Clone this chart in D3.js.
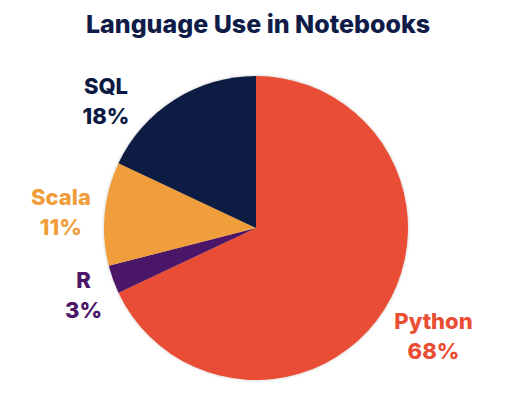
<!DOCTYPE html>
<html lang="en">
<head>
  <meta charset="UTF-8">
  <title>Language Use in Notebooks</title>
  <style>
    body {
      margin: 0;
      background: #fff;
      font-family: Inter, "Noto Sans", sans-serif;
    }
    svg { display: block; }
    .title { font-size: 25px; font-weight: 800; fill: #0f1c48; }
    .label { font-size: 22px; font-weight: 800; }
  </style>
</head>
<body>
  <svg width="516" height="394"></svg>

  <script src="https://d3js.org/d3.v7.min.js"></script>
  <script>
    const languages = ["Python", "R", "Scala", "SQL"];
    const shares = [68, 3, 11, 18];
    const colors = ["#e94e35", "#4b1568", "#f09d3b", "#0b1a42"];

    const width = 516, height = 394;
    const cx = 256, cy = 228, radius = 152;

    // hand nudges so labels sit where the original has them
    const nudge = { Python: [12, 2], R: [12, 0], Scala: [0, 1], SQL: [-45, 37] };

    const svg = d3.select("svg");

    svg.append("text")
      .attr("class", "title")
      .attr("x", width / 2)
      .attr("y", 33)
      .attr("text-anchor", "middle")
      .text("Language Use in Notebooks");

    const defs = svg.append("defs");
    const f = defs.append("filter").attr("id", "shadow")
      .attr("x", "-10%").attr("y", "-10%").attr("width", "120%").attr("height", "120%");
    f.append("feDropShadow")
      .attr("dx", 0).attr("dy", 0).attr("stdDeviation", 1.5)
      .attr("flood-color", "#000").attr("flood-opacity", 0.25);

    const data = languages.map((d, i) => ({ name: d, value: shares[i], color: colors[i] }));

    const pie = d3.pie().value(d => d.value).sort(null);
    const arc = d3.arc().innerRadius(0).outerRadius(radius);
    const labelArc = d3.arc().innerRadius(196).outerRadius(196);

    const g = svg.append("g").attr("transform", `translate(${cx},${cy})`);

    g.append("g")
      .attr("filter", "url(#shadow)")
      .selectAll("path")
      .data(pie(data))
      .join("path")
      .attr("d", arc)
      .attr("fill", d => d.data.color);

    const labels = g.selectAll("text.label")
      .data(pie(data))
      .join("text")
      .attr("class", "label")
      .attr("text-anchor", "middle")
      .attr("fill", d => d.data.color)
      .attr("transform", d => {
        const [x, y] = labelArc.centroid(d);
        const n = nudge[d.data.name];
        return `translate(${x + n[0]},${y + n[1]})`;
      });

    labels.append("tspan").attr("x", 0).attr("y", -6).text(d => d.data.name);
    labels.append("tspan").attr("x", 0).attr("y", 24).text(d => d.data.value + "%");
  </script>
</body>
</html>
